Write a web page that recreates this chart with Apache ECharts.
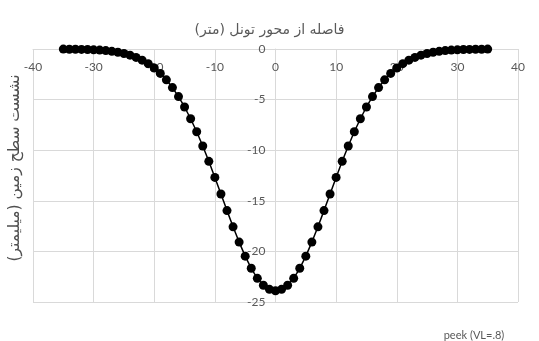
<!DOCTYPE html>
<html>
<head>
<meta charset="utf-8">
<script src="https://cdn.jsdelivr.net/npm/echarts@6/dist/echarts.min.js"></script>
<style>
  html, body { margin: 0; padding: 0; background: #fff; }
  #main { width: 539px; height: 341px; }
</style>
</head>
<body>
<div id="main"></div>
<script>
// فاصله از محور تونل (متر)
const distance = [
  -35, -34, -33, -32, -31, -30, -29, -28, -27, -26, -25, -24, -23, -22, -21, -20, -19, -18,
  -17, -16, -15, -14, -13, -12, -11, -10, -9, -8, -7, -6, -5, -4, -3, -2, -1,
  0,
  1, 2, 3, 4, 5, 6, 7, 8, 9, 10, 11, 12, 13, 14, 15, 16, 17,
  18, 19, 20, 21, 22, 23, 24, 25, 26, 27, 28, 29, 30, 31, 32, 33, 34, 35
];
// نشست سطح زمین (میلیمتر)
const settlement = [
  -0.01, -0.02, -0.02, -0.04, -0.05, -0.08, -0.11, -0.16, -0.23, -0.32, -0.45, -0.61, -0.83, -1.10, -1.45, -1.88, -2.41, -3.05,
  -3.81, -4.70, -5.73, -6.89, -8.18, -9.59, -11.10, -12.69, -14.33, -15.97, -17.57, -19.08, -20.47, -21.67, -22.66, -23.35, -23.75,
  -23.9,
  -23.75, -23.35, -22.66, -21.67, -20.47, -19.08, -17.57, -15.97, -14.33, -12.69, -11.10, -9.59, -8.18, -6.89, -5.73, -4.70, -3.81,
  -3.05, -2.41, -1.88, -1.45, -1.10, -0.83, -0.61, -0.45, -0.32, -0.23, -0.16, -0.11, -0.08, -0.05, -0.04, -0.02, -0.02, -0.01
];

const xTitle = 'فاصله از محور تونل (متر)';
const yTitle = 'نشست سطح زمین (میلیمتر)';
const note = 'peek (VL=.8)';

let points = [];
for (let i = 0; i < distance.length; i++) {
  points.push([distance[i], settlement[i]]);
}

let chart = echarts.init(document.getElementById('main'));
let gridColor = '#d9d9d9';
let textColor = '#595959';
let gridLeft = 33, gridRight = 21;
// y axis crosses at x = 0 (middle of the -40..40 range)
let yOffset = -(539 - gridLeft - gridRight) / 2;

let option = {
  animation: false,
  title: {
    text: xTitle,
    left: 'center',
    top: 18,
    textStyle: {
      color: textColor,
      fontSize: 14,
      fontWeight: 'normal',
      fontFamily: 'DejaVu Sans'
    }
  },
  grid: { left: gridLeft, right: gridRight, top: 49, bottom: 39 },
  xAxis: {
    type: 'value',
    position: 'top',
    min: -40,
    max: 40,
    interval: 10,
    axisLine: { onZero: false, lineStyle: { color: gridColor } },
    axisTick: { show: false },
    axisLabel: { inside: true, color: textColor, fontSize: 12, margin: 12, fontFamily: 'Lato' },
    splitLine: { lineStyle: { color: gridColor } }
  },
  yAxis: {
    type: 'value',
    position: 'left',
    offset: yOffset,
    min: -25,
    max: 0,
    interval: 5,
    axisLine: { show: true, onZero: false, lineStyle: { color: gridColor } },
    axisTick: { show: false },
    axisLabel: { color: textColor, fontSize: 12, margin: 10, fontFamily: 'Lato' },
    splitLine: { lineStyle: { color: gridColor } }
  },
  series: [{
    type: 'line',
    data: points,
    symbol: 'circle',
    symbolSize: 9,
    itemStyle: { color: '#000' },
    lineStyle: { color: '#000', width: 1.5 }
  }],
  graphic: [
    {
      type: 'text',
      x: 15,
      y: 168,
      rotation: Math.PI / 2,
      style: {
        text: yTitle,
        align: 'center',
        verticalAlign: 'middle',
        fill: '#505050',
        font: '15.5px "DejaVu Sans"'
      }
    },
    {
      type: 'text',
      x: 474,
      y: 335,
      style: {
        text: note,
        align: 'center',
        verticalAlign: 'middle',
        fill: textColor,
        font: '11px Lato'
      }
    }
  ]
};

chart.setOption(option);
</script>
</body>
</html>
